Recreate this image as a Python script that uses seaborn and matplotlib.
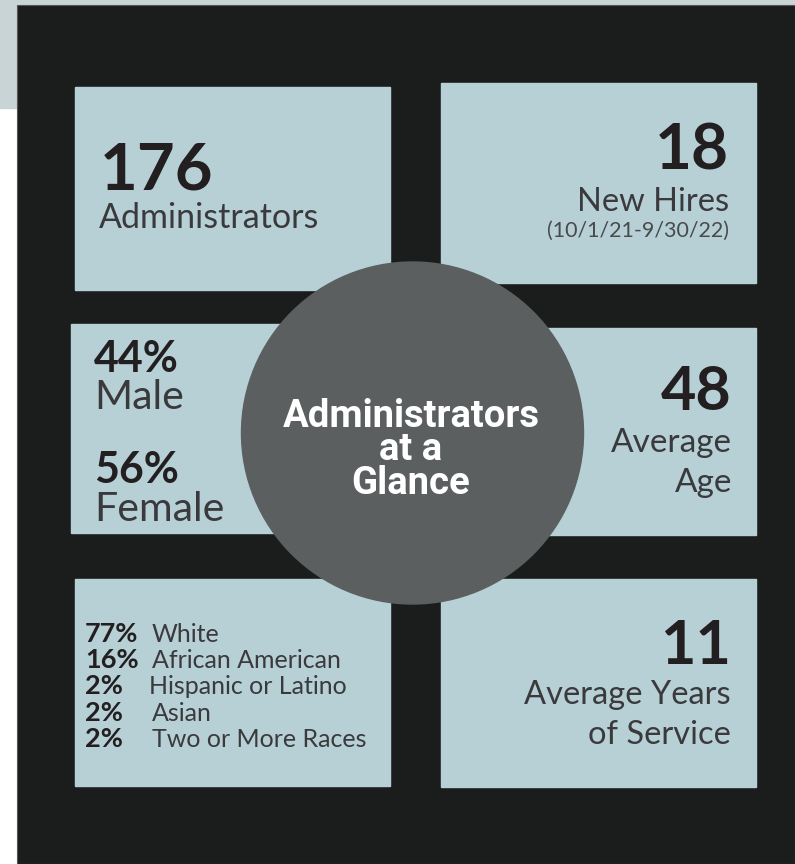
import matplotlib
matplotlib.use("Agg")
import matplotlib.pyplot as plt
import matplotlib.patches as mpatches
import seaborn as sns

sns.set_theme(style="white")
plt.rcParams['font.family'] = ['Lato', 'DejaVu Sans']

# ---- data ----
total_admins = "176"
total_label = "Administrators"
new_hires = "18"
new_hires_label = "New Hires"
new_hires_period = "(10/1/21-9/30/22)"
gender_pct = ["44%", "56%"]
gender_labels = ["Male", "Female"]
avg_age = "48"
avg_age_label = ["Average", "Age"]
eth_pct = ["77%", "16%", "2%", "2%", "2%"]
eth_labels = ["White", "African American", "Hispanic or Latino", "Asian", "Two or More Races"]
avg_service = "11"
avg_service_label = ["Average Years", "of Service"]
title_lines = ["Administrators", "at a", "Glance"]

W, H = 795, 864
fig = plt.figure(figsize=(W / 100, H / 100), dpi=100)
ax = fig.add_axes([0, 0, 1, 1])
ax.set_xlim(0, W)
ax.set_ylim(H, 0)
ax.axis("off")
fig.patch.set_facecolor("white")

BOX = "#b6d0d6"
DARK = "#1b1d1c"
NUM = "#231f20"
TXT = "#3a3a3d"

ax.add_patch(mpatches.Rectangle((0, 0), W, 108, color="#c8d4d6", zorder=0))
ax.add_patch(mpatches.Rectangle((17, 5), W - 17, H - 5, facecolor=DARK,
                                edgecolor="#555", lw=0.8, zorder=1))

boxes = [(75, 87, 315, 203), (441, 83, 315, 200),
         (71, 324, 319, 209), (441, 328, 315, 207),
         (75, 579, 315, 207), (441, 579, 315, 208)]
for (x, y, w, h) in boxes:
    ax.add_patch(mpatches.Rectangle((x, y), w, h, color=BOX, zorder=2))

circ = mpatches.Circle((412.5, 433), 171, color="#5c5f60", zorder=3)
ax.add_patch(circ)

def t(x, y, s, size, weight="normal", color=TXT, ha="left", **kw):
    ax.text(x, y, s, fontsize=size, fontweight=weight, color=color, ha=ha,
            va="baseline", zorder=4, **kw)

# box 1
t(100, 190, total_admins, 47, "bold", NUM)
t(99, 228, total_label, 24.5)
# box 2
t(729, 170, new_hires, 46, "bold", NUM, ha="right")
t(729, 211, new_hires_label, 23.5, ha="right")
t(729, 237, new_hires_period, 15.4, color="#4a4a4c", ha="right")
# box 3
t(94, 372, gender_pct[0], 31, "bold", NUM)
t(94, 409, gender_labels[0], 29.5)
t(94, 483, gender_pct[1], 31, "bold", NUM)
t(94, 521, gender_labels[1], 29.5)
# box 4
t(732, 410, avg_age, 44, "bold", NUM, ha="right")
t(732, 452, avg_age_label[0], 24, ha="right")
t(732, 492, avg_age_label[1], 24, ha="right")
# box 5
y0 = 641.5
for i, (p, lab) in enumerate(zip(eth_pct, eth_labels)):
    yy = y0 + i * 26.4
    t(85, yy, p, 19.5, "bold", NUM)
    t(151.5 if i != 2 else 149, yy, lab, 18)
# box 6
t(731, 664, avg_service, 44, "bold", NUM, ha="right")
t(731, 704, avg_service_label[0], 23.5, ha="right")
t(731, 744, avg_service_label[1], 23.5, ha="right")

# circle title (single multi-line text)
ax.text(411, 450, "\n".join(title_lines), fontsize=27.5, fontweight="bold",
        color="white", ha="center", va="center", multialignment="center",
        linespacing=0.88, zorder=5, family=["Roboto", "DejaVu Sans"])

fig.savefig("out.png", dpi=100, facecolor="white")
